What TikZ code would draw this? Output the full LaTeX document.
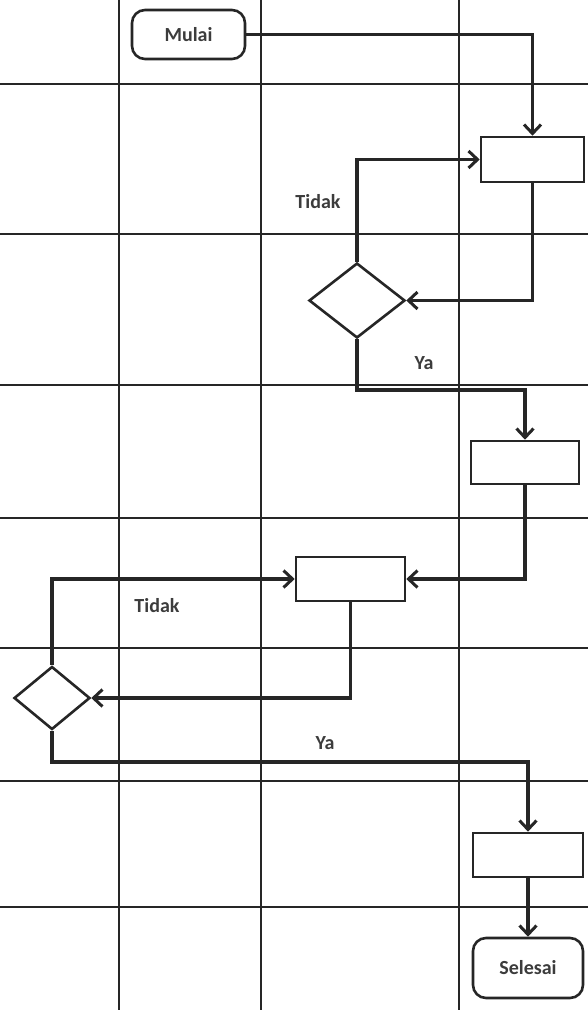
\documentclass[tikz,border=0pt]{standalone}
\usepackage{fontspec}
\setmainfont{Carlito}
\usetikzlibrary{arrows.meta,shapes.geometric}
\definecolor{ink}{HTML}{262626}
\tikzset{
  gridline/.style={draw=ink,line width=1.4pt},
  conn/.style={draw=ink,line width=3.2pt,line join=miter,-{Straight Barb[length=9pt,width=17pt,line width=3pt]}},
  procbox/.style={draw=ink,line width=2.6pt,fill=white,rectangle,inner sep=0pt},
  termbox/.style={draw=ink,line width=2.6pt,fill=white,rectangle,rounded corners=13pt,inner sep=0pt,font=\fontsize{20}{23}\selectfont\bfseries,text=ink!90},
  decbox/.style={draw=ink,line width=2.6pt,fill=white,diamond,inner sep=0pt},
  lbl/.style={font=\fontsize{20}{23}\selectfont\bfseries,text=ink!90,inner sep=0pt}
}
\begin{document}
\begin{tikzpicture}[x=1pt,y=-1pt]
\useasboundingbox (0,0) rectangle (588,1010);
% grid
\foreach \gx in {119,261,459} \draw[gridline] (\gx,0) -- (\gx,1010);
\foreach \gy in {84,234,385,518,648,781,907} \draw[gridline] (0,\gy) -- (588,\gy);
% nodes
\node[termbox,minimum width=113pt,minimum height=49pt] (mulai) at (188.5,34.5) {Mulai};
\node[procbox,minimum width=103pt,minimum height=45pt] (b1) at (532.5,159.5) {};
\node[decbox,minimum width=96pt,minimum height=75pt] (d1) at (357,300.5) {};
\node[procbox,minimum width=108pt,minimum height=43pt] (b2) at (525,462.5) {};
\node[procbox,minimum width=109pt,minimum height=44pt] (b3) at (350.5,579) {};
\node[decbox,minimum width=76pt,minimum height=63pt] (d2) at (52,698) {};
\node[procbox,minimum width=110pt,minimum height=44pt] (b4) at (528,855) {};
\node[termbox,minimum width=110pt,minimum height=60pt] (selesai) at (528,968) {Selesai};
\coordinate (ya1) at (0,390);
\coordinate (ya2) at (0,762);
% connectors
\draw[conn] (mulai.east) -| (b1.north);
\draw[conn] (d1.north) |- (b1.west);
\draw[conn] (b1.south) |- (d1.east);
\draw[conn] (d1.south) -- (d1.south |- ya1) -| (b2.north);
\draw[conn] (b2.south) |- (b3.east);
\draw[conn] (b3.south) |- (d2.east);
\draw[conn] (d2.north) |- (b3.west);
\draw[conn] (d2.south) -- (d2.south |- ya2) -| (b4.north);
\draw[conn] (b4.south) -- (selesai.north);
% labels
\node[lbl] (t1) at (318,202) {Tidak};
\node[lbl] (y1) at (424,363) {Ya};
\node[lbl] (t2) at (157,606) {Tidak};
\node[lbl] (y2) at (325,743) {Ya};
\end{tikzpicture}
\end{document}
